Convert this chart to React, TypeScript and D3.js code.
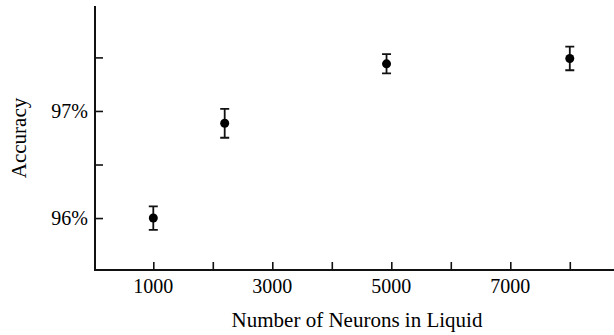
import React, {useEffect, useRef} from 'react';
import * as d3 from 'd3';

const neurons = [1000, 2200, 4920, 8000];
const accuracy = [96.0, 96.885, 97.44, 97.49];
const errors = [0.11, 0.135, 0.09, 0.11];
const xTickValues = [1000, 2000, 3000, 4000, 5000, 6000, 7000, 8000];
const xTickLabels = ['1000', '', '3000', '', '5000', '', '7000', ''];
const yTickValues = [96, 96.5, 97, 97.5];
const yTickLabels = ['96%', '', '97%', ''];

export default function App() {
    const svgRef = useRef<SVGSVGElement>(null);

    useEffect(() => {
        const width = 614;
        const height = 335;
        const svg = d3.select(svgRef.current);
        svg.selectAll('*').remove();

        const x = d3.scaleLinear().domain([0, 8743]).range([93.8, 614]);
        const y = d3.scaleLinear().domain([95.515, 97.98]).range([270, 6]);
        const font = '"Liberation Serif", "Times New Roman", serif';

        const xAxis = d3.axisTop(x)
            .tickValues(xTickValues)
            .tickSize(8)
            .tickFormat(() => '');
        const gx = svg.append('g')
            .attr('transform', `translate(0,${y.range()[0]})`)
            .call(xAxis);
        gx.select('.domain').remove();
        gx.selectAll('line').attr('stroke', '#111').attr('stroke-width', 1.6);

        const yAxis = d3.axisRight(y)
            .tickValues(yTickValues)
            .tickSize(8)
            .tickFormat(() => '');
        const gy = svg.append('g')
            .attr('transform', 'translate(95,0)')
            .call(yAxis);
        gy.select('.domain').remove();
        gy.selectAll('line').attr('stroke', '#111').attr('stroke-width', 1.6);

        // axis lines
        svg.append('path')
            .attr('d', `M95,6V270H614`)
            .attr('fill', 'none')
            .attr('stroke', '#111')
            .attr('stroke-width', 2);

        svg.append('g').selectAll('text')
            .data(xTickValues)
            .enter()
            .append('text')
            .attr('x', d => x(d))
            .attr('y', 293)
            .attr('text-anchor', 'middle')
            .attr('font-family', font)
            .attr('font-size', 20)
            .text((d, i) => xTickLabels[i]);

        svg.append('g').selectAll('text')
            .data(yTickValues)
            .enter()
            .append('text')
            .attr('x', 88)
            .attr('y', d => y(d))
            .attr('dy', '0.35em')
            .attr('text-anchor', 'end')
            .attr('font-family', font)
            .attr('font-size', 20)
            .text((d, i) => yTickLabels[i]);

        svg.append('text')
            .attr('x', 357)
            .attr('y', 327)
            .attr('text-anchor', 'middle')
            .attr('font-family', font)
            .attr('font-size', 21)
            .text('Number of Neurons in Liquid');

        svg.append('text')
            .attr('transform', 'translate(26,138) rotate(-90)')
            .attr('text-anchor', 'middle')
            .attr('font-family', font)
            .attr('font-size', 21)
            .text('Accuracy');

        const pts = neurons.map((n, i) => ({n, a: accuracy[i], e: errors[i]}));
        const g = svg.append('g');
        const bars = g.selectAll('.err').data(pts).enter().append('g').attr('class', 'err');
        bars.append('path')
            .attr('d', d => {
                const cx = x(d.n);
                const y0 = y(d.a - d.e);
                const y1 = y(d.a + d.e);
                return `M${cx},${y0}V${y1}M${cx - 4.5},${y0}H${cx + 4.5}M${cx - 4.5},${y1}H${cx + 4.5}`;
            })
            .attr('fill', 'none')
            .attr('stroke', '#111')
            .attr('stroke-width', 1.8);
        bars.append('circle')
            .attr('cx', d => x(d.n))
            .attr('cy', d => y(d.a))
            .attr('r', 4.5)
            .attr('fill', '#000');

        svg.attr('width', width).attr('height', height);
    }, []);

    return <svg ref={svgRef} style={{position: 'absolute', left: 0, top: 0, background: '#fff'}}/>;
}
